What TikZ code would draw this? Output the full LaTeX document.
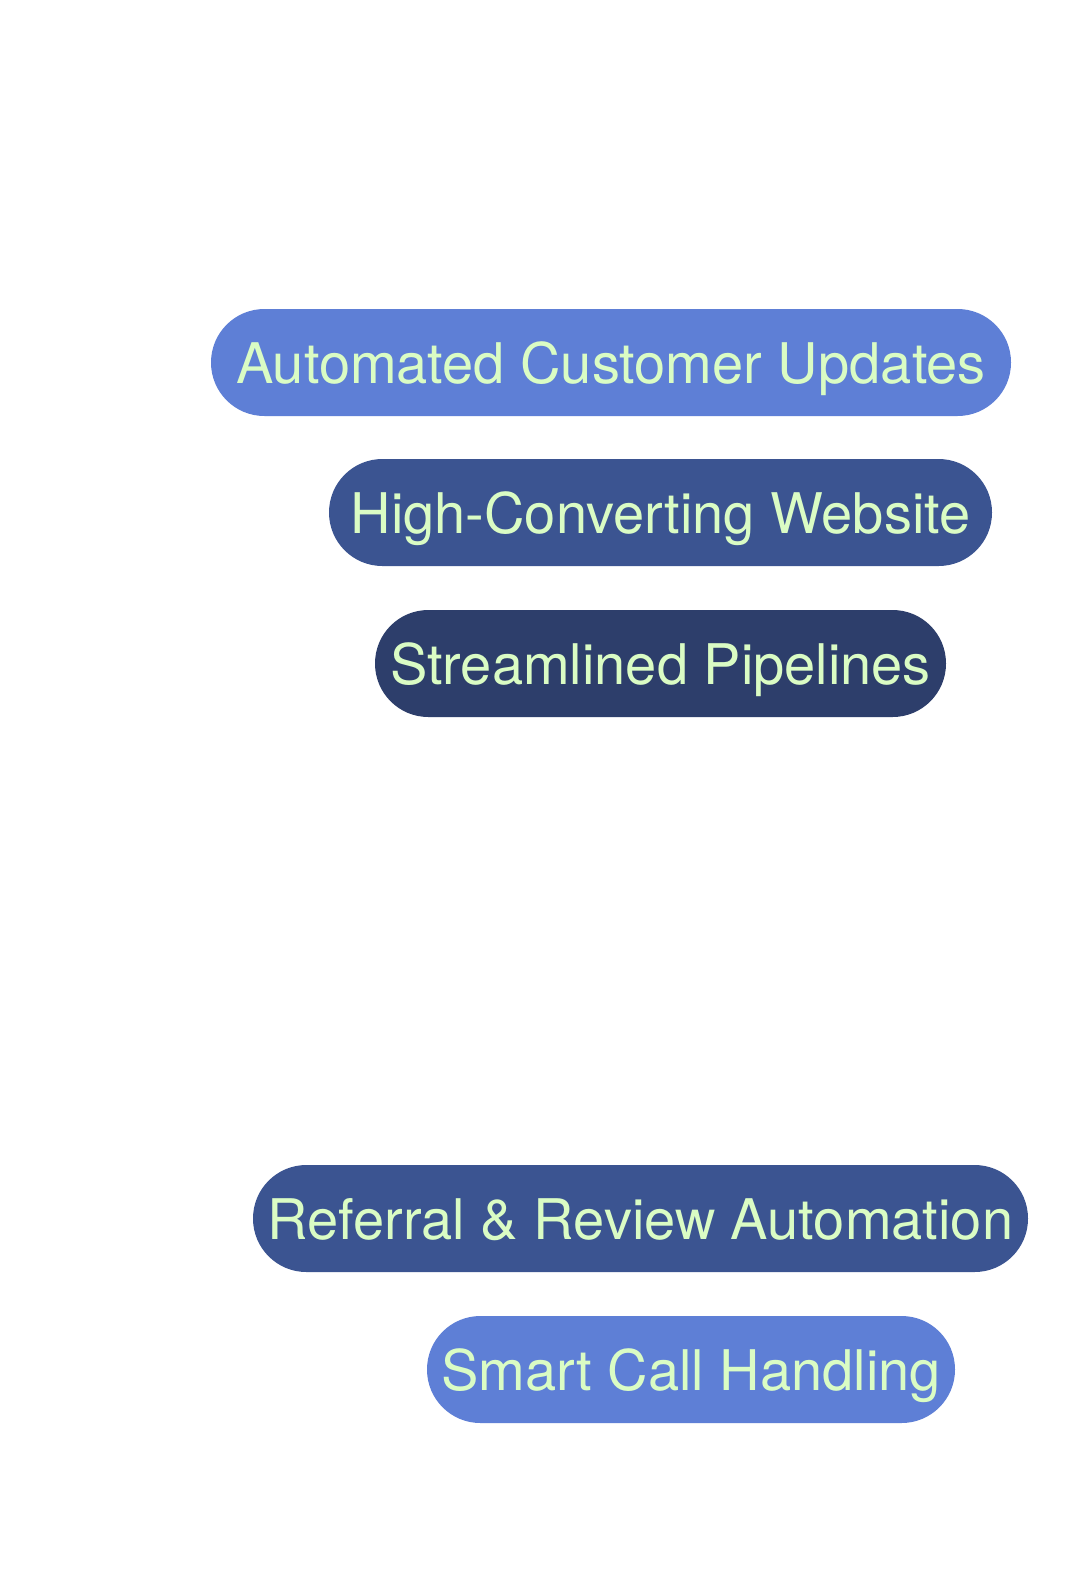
\documentclass[tikz,border=0pt]{standalone}
\usepackage{fontspec}
\setmainfont{TeX Gyre Heros}
\usepackage{tikz}

\definecolor{pilllight}{HTML}{5E7FD6}
\definecolor{pillmid}{HTML}{3B5491}
\definecolor{pilldark}{HTML}{2D3E6B}
\definecolor{pilltext}{HTML}{DAFCC4}

\begin{document}
\begin{tikzpicture}[x=0.5pt,y=-0.5pt,
  pill/.style={rounded corners=26.7pt,minimum height=53.5pt,inner ysep=0pt,
    text height=20.5pt,text depth=0pt,text=pilltext,
    font=\fontsize{28pt}{30pt}\selectfont}]
\fill [white] (0,0) rectangle (1080,1580);
\useasboundingbox (0,0) rectangle (1080,1580);
\node[pill,fill=pilllight,minimum width=400pt] (autoupd) at (611,362.5) {Automated Customer Updates};
\node[pill,fill=pillmid,minimum width=331.5pt] (website) at (660.5,512.5) {High-Converting Website};
\node[pill,fill=pilldark,minimum width=285.5pt] (pipelines) at (660.5,663.5) {Streamlined Pipelines};
\node[pill,fill=pillmid,minimum width=387.5pt] (referral) at (640.5,1218.5) {Referral \& Review Automation};
\node[pill,fill=pilllight,minimum width=264pt] (calls) at (691,1369.5) {Smart Call Handling};
\end{tikzpicture}
\end{document}
